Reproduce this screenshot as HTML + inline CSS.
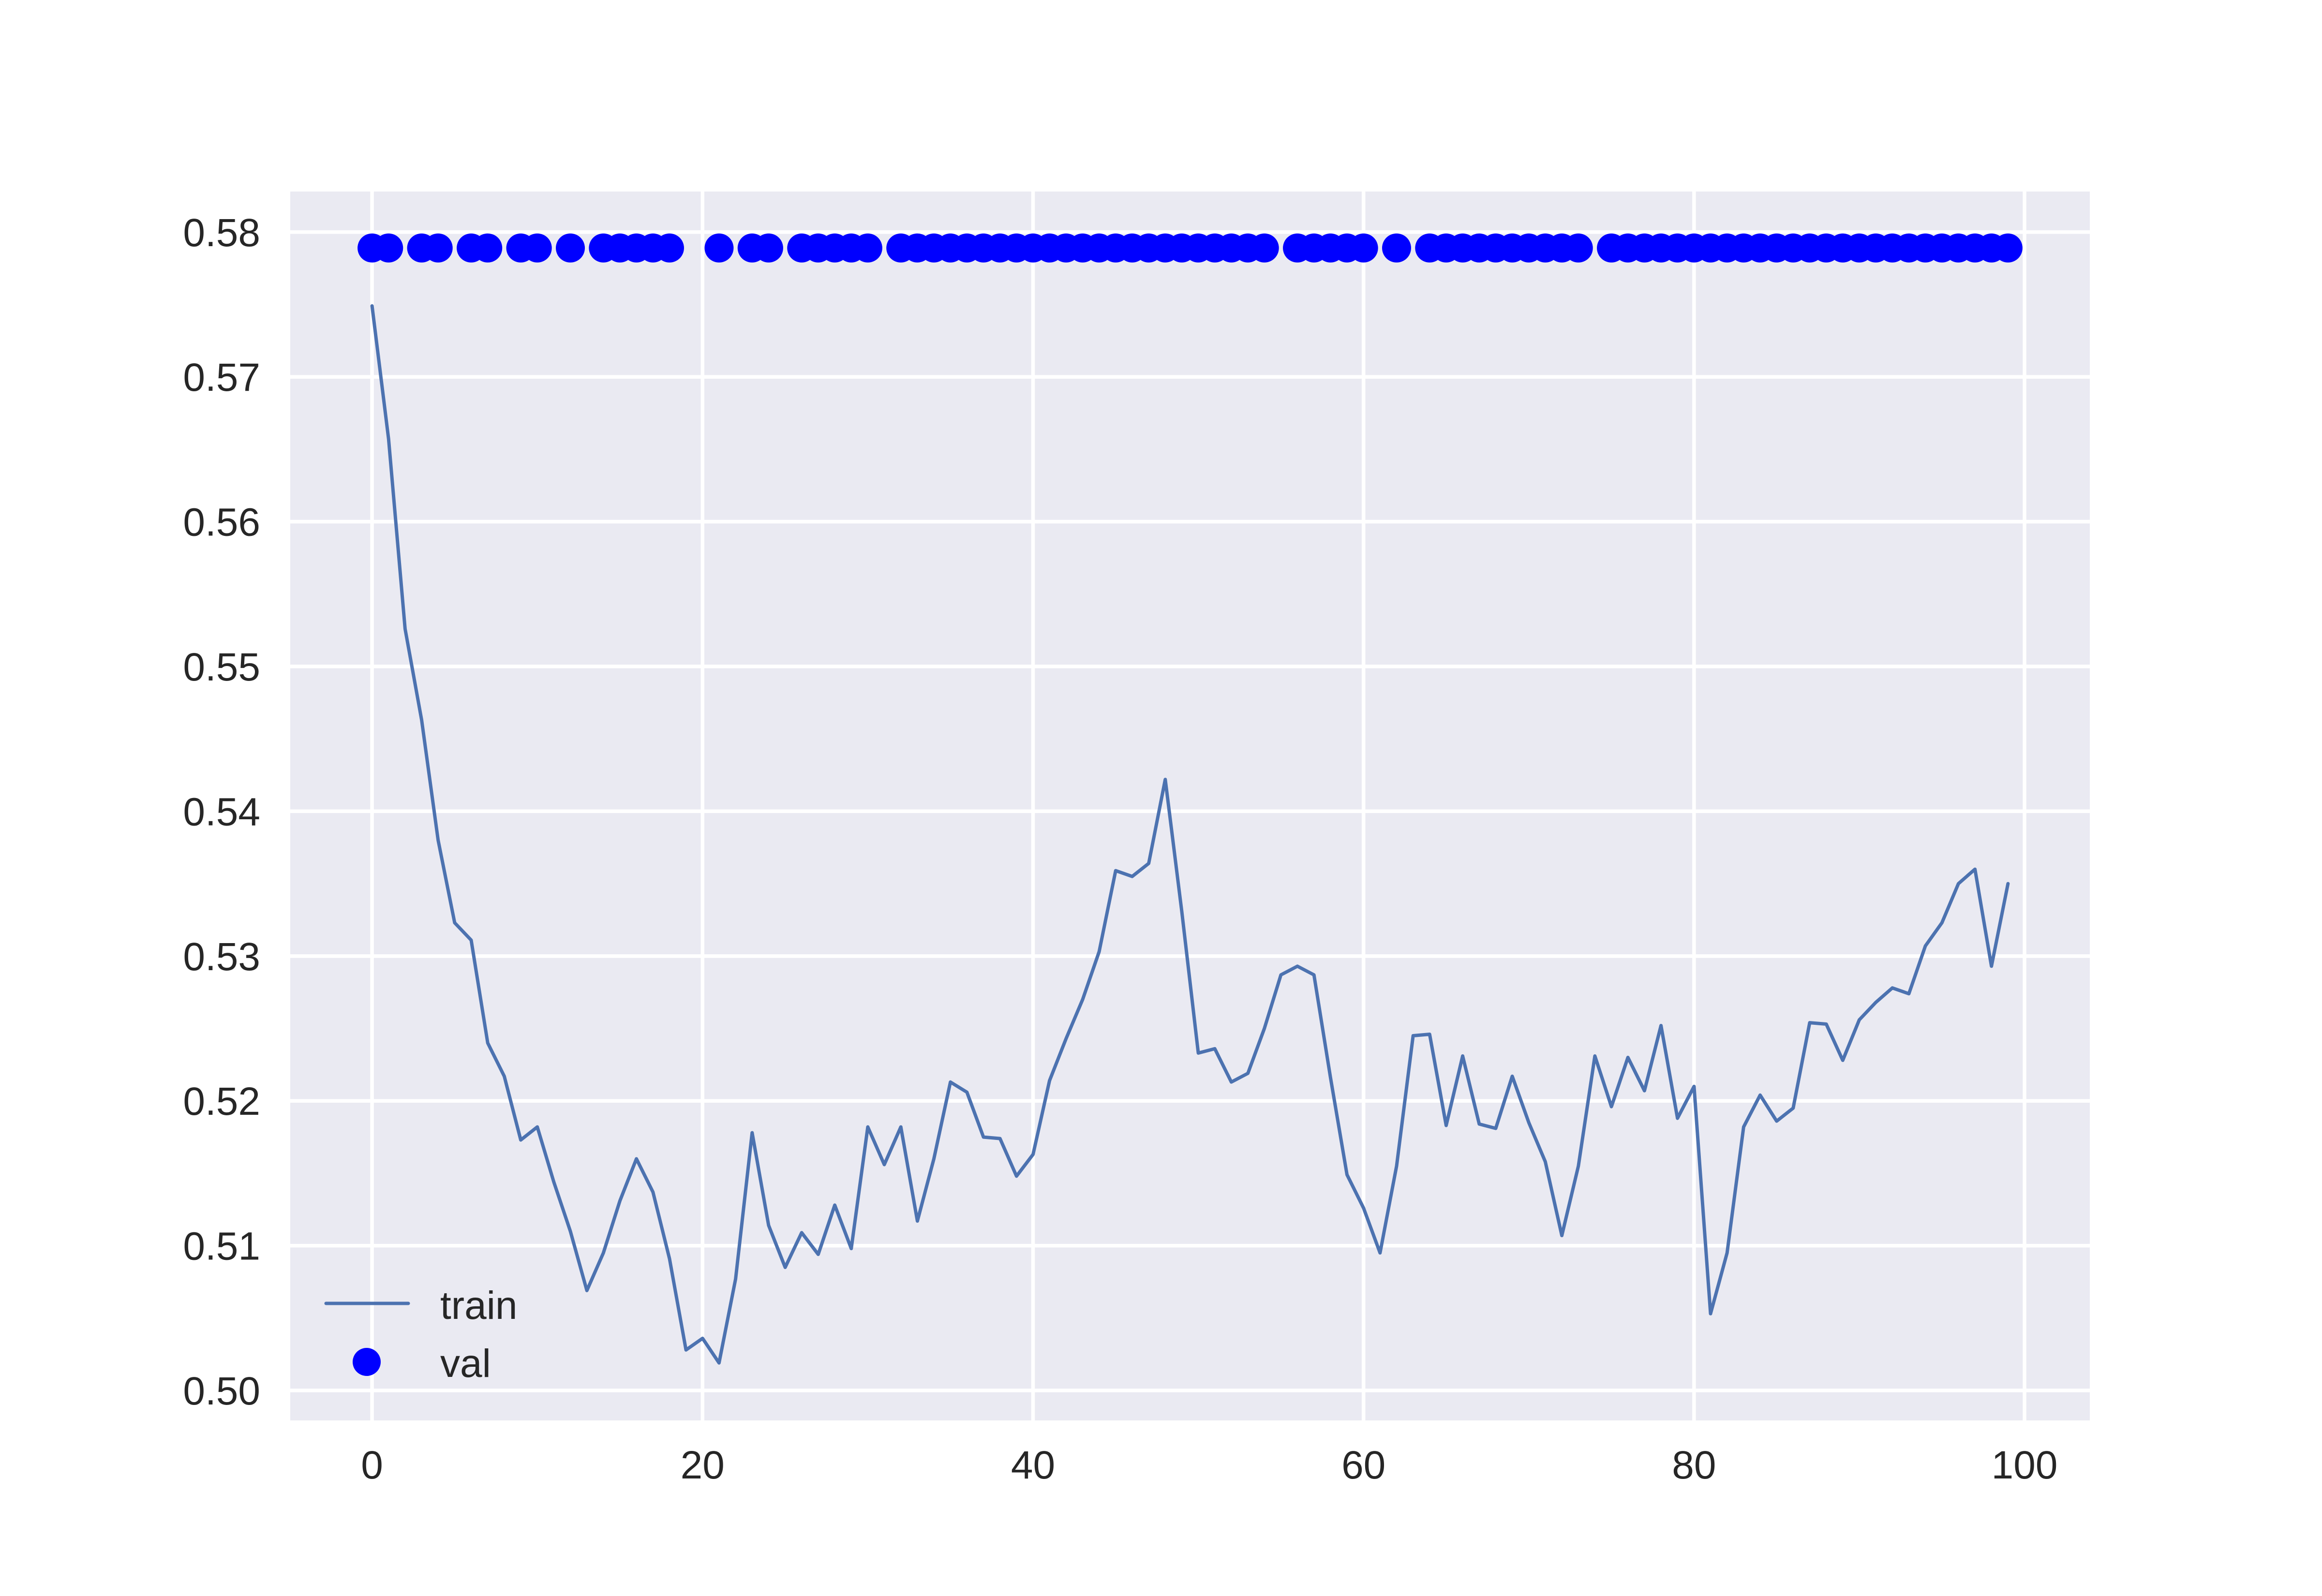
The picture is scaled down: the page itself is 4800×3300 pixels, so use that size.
<!DOCTYPE html>
<html><head><meta charset="utf-8"><style>
html,body{margin:0;padding:0;background:#fff;}
svg{display:block;font-family:"Liberation Sans","DejaVu Sans",sans-serif;}
</style></head><body>
<svg id="chart" width="4800" height="3300" viewBox="0 0 4800 3300" xmlns="http://www.w3.org/2000/svg">
<rect x="0" y="0" width="4800" height="3300" fill="#ffffff"/>
<rect x="600" y="396" width="3720" height="2541" fill="#eaeaf2"/>
<g id="grid"></g>
<g id="series"></g>
<g id="ticks"></g>
<g>
  <line x1="674" y1="2695" x2="844" y2="2695" stroke="#4c72b0" stroke-width="7" stroke-linecap="round"/>
  <text x="910" y="2727" font-size="82" fill="#262626">train</text>
  <circle cx="758" cy="2816" r="29" fill="#0000ff"/>
  <text x="910" y="2847" font-size="82" fill="#262626">val</text>
</g>
</svg>
<script>
const xTicks = [0, 20, 40, 60, 80, 100];
const yTicks = [0.50, 0.51, 0.52, 0.53, 0.54, 0.55, 0.56, 0.57, 0.58];
const yTickLabels = ["0.50","0.51","0.52","0.53","0.54","0.55","0.56","0.57","0.58"];
const trainValues = [0.5749,0.5657,0.5526,0.5463,0.5380,0.5323,0.5311,0.5240,0.5217,0.5173,
0.5182,0.5144,0.5110,0.5069,0.5095,0.5131,0.5160,0.5137,0.5091,0.5028,
0.5036,0.5019,0.5077,0.5178,0.5114,0.5085,0.5109,0.5094,0.5128,0.5098,
0.5182,0.5156,0.5182,0.5117,0.5160,0.5213,0.5206,0.5175,0.5174,0.5148,
0.5163,0.5214,0.5243,0.5270,0.5303,0.5359,0.5355,0.5364,0.5422,0.5331,
0.5233,0.5236,0.5213,0.5219,0.5250,0.5287,0.5293,0.5287,0.5216,0.5149,
0.5126,0.5095,0.5155,0.5245,0.5246,0.5183,0.5231,0.5184,0.5181,0.5217,
0.5185,0.5158,0.5107,0.5155,0.5231,0.5196,0.5230,0.5207,0.5252,0.5188,
0.5210,0.5053,0.5095,0.5182,0.5204,0.5186,0.5195,0.5254,0.5253,0.5228,
0.5256,0.5268,0.5278,0.5274,0.5307,0.5323,0.5350,0.5360,0.5293,0.5350];
const valMissing = [2,5,8,11,13,19,20,22,25,31,55,61,63,74];
const valLevel = 0.5789;
const valValues = trainValues.map((_, i) => valMissing.includes(i) ? null : valLevel);

const NS = "http://www.w3.org/2000/svg";
const X0 = 600, X1 = 4320, Y0 = 396, Y1 = 2937;
const xMin = -4.95, xMax = 103.95;
const yMin = 0.49793, yMax = 0.58280;
function sx(v){ return X0 + (v - xMin) / (xMax - xMin) * (X1 - X0); }
function sy(v){ return Y1 - (v - yMin) / (yMax - yMin) * (Y1 - Y0); }
function mk(tag, attrs, parent){
  const el = document.createElementNS(NS, tag);
  for (const k in attrs) el.setAttribute(k, attrs[k]);
  parent.appendChild(el);
  return el;
}
const grid = document.getElementById('grid');
const ticks = document.getElementById('ticks');
const series = document.getElementById('series');

xTicks.forEach(t => {
  const l = mk('line', {x1: sx(t), x2: sx(t), y1: Y0, y2: Y1, stroke: '#ffffff', 'stroke-width': 7.5}, grid);
  
  
  const tx = mk('text', {x: sx(t), y: 3057, 'font-size': 82, fill: '#262626', 'text-anchor': 'middle'}, ticks);
  
  
  tx.textContent = String(t);
});
yTicks.forEach((t, i) => {
  const l = mk('line', {x1: X0, x2: X1, y1: sy(t), y2: sy(t), stroke: '#ffffff', 'stroke-width': 7.5}, grid);
  
  
  const tx = mk('text', {x: 538, y: sy(t) + 29, 'font-size': 82, fill: '#262626', 'text-anchor': 'end'}, ticks);
  
  
  tx.textContent = yTickLabels[i];
});

const pts = trainValues.map((v, i) => sx(i).toFixed(1) + ',' + sy(v).toFixed(1)).join(' ');
const line = mk('polyline', {points: pts, fill: 'none', stroke: '#4c72b0', 'stroke-width': 7, 'stroke-linejoin': 'round', 'stroke-linecap': 'round'}, series);



valValues.forEach((v, i) => {
  if (v === null) return;
  const c = mk('circle', {cx: sx(i), cy: sy(v), r: 30, fill: '#0000ff'}, series);
  
  
});
</script>
</body></html>
